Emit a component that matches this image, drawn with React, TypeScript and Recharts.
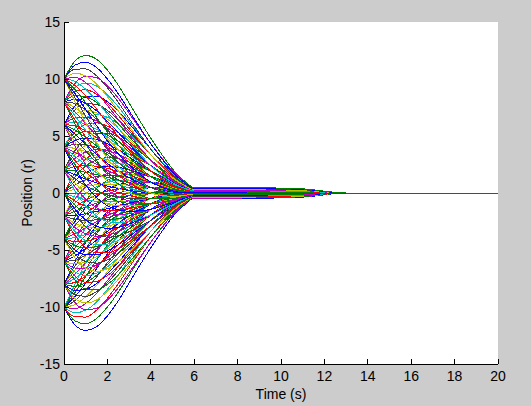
import { LineChart, Line, XAxis, YAxis, CartesianGrid } from 'recharts';

// sample times (s)
const times = [0, 0.5, 1, 1.5, 2, 2.5, 3, 3.5, 4, 4.5, 5, 5.5, 6, 8, 11, 13, 20];

// one array per starting position, each row is one initial velocity (-4 .. 4)
const startAtMinus10 = [
  [-10, -11.56, -12.06, -11.74, -10.78, -9.46, -7.9, -6.32, -4.8, -3.4, -2.1, -1.13, -0.48, -0.48, -0.36, 0, 0],
  [-10, -11.21, -11.47, -11.01, -10, -8.71, -7.22, -5.74, -4.32, -3.04, -1.86, -0.99, -0.42, -0.42, -0.32, 0, 0],
  [-10, -10.86, -10.88, -10.28, -9.23, -7.96, -6.54, -5.15, -3.84, -2.68, -1.62, -0.86, -0.37, -0.37, -0.28, 0, 0],
  [-10, -10.5, -10.28, -9.56, -8.45, -7.2, -5.86, -4.57, -3.36, -2.32, -1.38, -0.72, -0.31, -0.31, -0.23, 0, 0],
  [-10, -10.15, -9.69, -8.83, -7.68, -6.45, -5.18, -3.98, -2.88, -1.96, -1.14, -0.59, -0.26, -0.26, -0.2, 0, 0],
  [-10, -9.8, -9.1, -8.1, -6.9, -5.7, -4.5, -3.4, -2.4, -1.6, -0.9, -0.45, -0.2, -0.2, -0.15, 0, 0],
  [-10, -9.45, -8.51, -7.37, -6.12, -4.95, -3.82, -2.82, -1.92, -1.24, -0.66, -0.31, -0.14, -0.14, -0.11, 0, 0],
  [-10, -9.1, -7.92, -6.64, -5.35, -4.2, -3.14, -2.23, -1.44, -0.88, -0.42, -0.18, -0.09, -0.09, -0.07, 0, 0],
  [-10, -8.74, -7.32, -5.92, -4.57, -3.44, -2.46, -1.65, -0.96, -0.52, -0.18, -0.04, -0.03, -0.03, -0.02, 0, 0],
  [-10, -8.39, -6.73, -5.19, -3.8, -2.69, -1.78, -1.06, -0.48, -0.16, 0.06, 0.09, 0.02, 0.02, 0.02, 0, 0],
  [-10, -8.04, -6.14, -4.46, -3.02, -1.94, -1.1, -0.48, 0, 0.2, 0.3, 0.23, 0.08, 0.08, 0.06, 0, 0],
];

const startAtMinus8 = [
  [-8, -9.6, -10.24, -10.12, -9.4, -8.32, -7, -5.64, -4.32, -3.08, -1.92, -1.04, -0.44, -0.44, -0.33, 0, 0],
  [-8, -9.25, -9.65, -9.39, -8.62, -7.57, -6.32, -5.06, -3.84, -2.72, -1.68, -0.9, -0.38, -0.38, -0.29, 0, 0],
  [-8, -8.9, -9.06, -8.66, -7.85, -6.82, -5.64, -4.47, -3.36, -2.36, -1.44, -0.77, -0.33, -0.33, -0.25, 0, 0],
  [-8, -8.54, -8.46, -7.94, -7.07, -6.06, -4.96, -3.89, -2.88, -2, -1.2, -0.63, -0.27, -0.27, -0.2, 0, 0],
  [-8, -8.19, -7.87, -7.21, -6.3, -5.31, -4.28, -3.3, -2.4, -1.64, -0.96, -0.5, -0.22, -0.22, -0.16, 0, 0],
  [-8, -7.84, -7.28, -6.48, -5.52, -4.56, -3.6, -2.72, -1.92, -1.28, -0.72, -0.36, -0.16, -0.16, -0.12, 0, 0],
  [-8, -7.49, -6.69, -5.75, -4.74, -3.81, -2.92, -2.14, -1.44, -0.92, -0.48, -0.22, -0.1, -0.1, -0.08, 0, 0],
  [-8, -7.14, -6.1, -5.02, -3.97, -3.06, -2.24, -1.55, -0.96, -0.56, -0.24, -0.09, -0.05, -0.05, -0.04, 0, 0],
  [-8, -6.78, -5.5, -4.3, -3.19, -2.3, -1.56, -0.97, -0.48, -0.2, 0, 0.05, 0.01, 0.01, 0.01, 0, 0],
  [-8, -6.43, -4.91, -3.57, -2.42, -1.55, -0.88, -0.38, 0, 0.16, 0.24, 0.18, 0.06, 0.06, 0.05, 0, 0],
  [-8, -6.08, -4.32, -2.84, -1.64, -0.8, -0.2, 0.2, 0.48, 0.52, 0.48, 0.32, 0.12, 0.12, 0.09, 0, 0],
];

const startAtMinus6 = [
  [-6, -7.64, -8.42, -8.5, -8.02, -7.18, -6.1, -4.96, -3.84, -2.76, -1.74, -0.95, -0.4, -0.4, -0.3, 0, 0],
  [-6, -7.29, -7.83, -7.77, -7.24, -6.43, -5.42, -4.38, -3.36, -2.4, -1.5, -0.81, -0.34, -0.34, -0.26, 0, 0],
  [-6, -6.94, -7.24, -7.04, -6.47, -5.68, -4.74, -3.79, -2.88, -2.04, -1.26, -0.68, -0.29, -0.29, -0.22, 0, 0],
  [-6, -6.58, -6.64, -6.32, -5.69, -4.92, -4.06, -3.21, -2.4, -1.68, -1.02, -0.54, -0.23, -0.23, -0.17, 0, 0],
  [-6, -6.23, -6.05, -5.59, -4.92, -4.17, -3.38, -2.62, -1.92, -1.32, -0.78, -0.41, -0.18, -0.18, -0.14, 0, 0],
  [-6, -5.88, -5.46, -4.86, -4.14, -3.42, -2.7, -2.04, -1.44, -0.96, -0.54, -0.27, -0.12, -0.12, -0.09, 0, 0],
  [-6, -5.53, -4.87, -4.13, -3.36, -2.67, -2.02, -1.46, -0.96, -0.6, -0.3, -0.13, -0.06, -0.06, -0.05, 0, 0],
  [-6, -5.18, -4.28, -3.4, -2.59, -1.92, -1.34, -0.87, -0.48, -0.24, -0.06, 0, -0.01, -0.01, -0.01, 0, 0],
  [-6, -4.82, -3.68, -2.68, -1.81, -1.16, -0.66, -0.29, 0, 0.12, 0.18, 0.14, 0.05, 0.05, 0.04, 0, 0],
  [-6, -4.47, -3.09, -1.95, -1.04, -0.41, 0.02, 0.3, 0.48, 0.48, 0.42, 0.27, 0.1, 0.1, 0.08, 0, 0],
  [-6, -4.12, -2.5, -1.22, -0.26, 0.34, 0.7, 0.88, 0.96, 0.84, 0.66, 0.41, 0.16, 0.16, 0.12, 0, 0],
];

const startAtMinus4 = [
  [-4, -5.68, -6.6, -6.88, -6.64, -6.04, -5.2, -4.28, -3.36, -2.44, -1.56, -0.86, -0.36, -0.36, -0.27, 0, 0],
  [-4, -5.33, -6.01, -6.15, -5.86, -5.29, -4.52, -3.7, -2.88, -2.08, -1.32, -0.72, -0.3, -0.3, -0.23, 0, 0],
  [-4, -4.98, -5.42, -5.42, -5.09, -4.54, -3.84, -3.11, -2.4, -1.72, -1.08, -0.59, -0.25, -0.25, -0.19, 0, 0],
  [-4, -4.62, -4.82, -4.7, -4.31, -3.78, -3.16, -2.53, -1.92, -1.36, -0.84, -0.45, -0.19, -0.19, -0.14, 0, 0],
  [-4, -4.27, -4.23, -3.97, -3.54, -3.03, -2.48, -1.94, -1.44, -1, -0.6, -0.32, -0.14, -0.14, -0.11, 0, 0],
  [-4, -3.92, -3.64, -3.24, -2.76, -2.28, -1.8, -1.36, -0.96, -0.64, -0.36, -0.18, -0.08, -0.08, -0.06, 0, 0],
  [-4, -3.57, -3.05, -2.51, -1.98, -1.53, -1.12, -0.78, -0.48, -0.28, -0.12, -0.04, -0.02, -0.02, -0.02, 0, 0],
  [-4, -3.22, -2.46, -1.78, -1.21, -0.78, -0.44, -0.19, 0, 0.08, 0.12, 0.09, 0.03, 0.03, 0.02, 0, 0],
  [-4, -2.86, -1.86, -1.06, -0.43, -0.02, 0.24, 0.39, 0.48, 0.44, 0.36, 0.23, 0.09, 0.09, 0.07, 0, 0],
  [-4, -2.51, -1.27, -0.33, 0.34, 0.73, 0.92, 0.98, 0.96, 0.8, 0.6, 0.36, 0.14, 0.14, 0.11, 0, 0],
  [-4, -2.16, -0.68, 0.4, 1.12, 1.48, 1.6, 1.56, 1.44, 1.16, 0.84, 0.5, 0.2, 0.2, 0.15, 0, 0],
];

const startAtMinus2 = [
  [-2, -3.72, -4.78, -5.26, -5.26, -4.9, -4.3, -3.6, -2.88, -2.12, -1.38, -0.77, -0.32, -0.32, -0.24, 0, 0],
  [-2, -3.37, -4.19, -4.53, -4.48, -4.15, -3.62, -3.02, -2.4, -1.76, -1.14, -0.63, -0.26, -0.26, -0.2, 0, 0],
  [-2, -3.02, -3.6, -3.8, -3.71, -3.4, -2.94, -2.43, -1.92, -1.4, -0.9, -0.5, -0.21, -0.21, -0.16, 0, 0],
  [-2, -2.66, -3, -3.08, -2.93, -2.64, -2.26, -1.85, -1.44, -1.04, -0.66, -0.36, -0.15, -0.15, -0.11, 0, 0],
  [-2, -2.31, -2.41, -2.35, -2.16, -1.89, -1.58, -1.26, -0.96, -0.68, -0.42, -0.23, -0.1, -0.1, -0.08, 0, 0],
  [-2, -1.96, -1.82, -1.62, -1.38, -1.14, -0.9, -0.68, -0.48, -0.32, -0.18, -0.09, -0.04, -0.04, -0.03, 0, 0],
  [-2, -1.61, -1.23, -0.89, -0.6, -0.39, -0.22, -0.1, 0, 0.04, 0.06, 0.05, 0.02, 0.02, 0.02, 0, 0],
  [-2, -1.26, -0.64, -0.16, 0.17, 0.36, 0.46, 0.49, 0.48, 0.4, 0.3, 0.18, 0.07, 0.07, 0.05, 0, 0],
  [-2, -0.9, -0.04, 0.56, 0.95, 1.12, 1.14, 1.07, 0.96, 0.76, 0.54, 0.32, 0.13, 0.13, 0.1, 0, 0],
  [-2, -0.55, 0.55, 1.29, 1.72, 1.87, 1.82, 1.66, 1.44, 1.12, 0.78, 0.45, 0.18, 0.18, 0.14, 0, 0],
  [-2, -0.2, 1.14, 2.02, 2.5, 2.62, 2.5, 2.24, 1.92, 1.48, 1.02, 0.59, 0.24, 0.24, 0.18, 0, 0],
];

const startAt0 = [
  [0, -1.76, -2.96, -3.64, -3.88, -3.76, -3.4, -2.92, -2.4, -1.8, -1.2, -0.68, -0.28, -0.28, -0.21, 0, 0],
  [0, -1.41, -2.37, -2.91, -3.1, -3.01, -2.72, -2.34, -1.92, -1.44, -0.96, -0.54, -0.22, -0.22, -0.17, 0, 0],
  [0, -1.06, -1.78, -2.18, -2.33, -2.26, -2.04, -1.75, -1.44, -1.08, -0.72, -0.41, -0.17, -0.17, -0.13, 0, 0],
  [0, -0.7, -1.18, -1.46, -1.55, -1.5, -1.36, -1.17, -0.96, -0.72, -0.48, -0.27, -0.11, -0.11, -0.08, 0, 0],
  [0, -0.35, -0.59, -0.73, -0.78, -0.75, -0.68, -0.58, -0.48, -0.36, -0.24, -0.14, -0.06, -0.06, -0.04, 0, 0],
  [0, 0, 0, 0, 0, 0, 0, 0, 0, 0, 0, 0, 0, 0, 0, 0, 0],
  [0, 0.35, 0.59, 0.73, 0.78, 0.75, 0.68, 0.58, 0.48, 0.36, 0.24, 0.14, 0.06, 0.06, 0.04, 0, 0],
  [0, 0.7, 1.18, 1.46, 1.55, 1.5, 1.36, 1.17, 0.96, 0.72, 0.48, 0.27, 0.11, 0.11, 0.08, 0, 0],
  [0, 1.06, 1.78, 2.18, 2.33, 2.26, 2.04, 1.75, 1.44, 1.08, 0.72, 0.41, 0.17, 0.17, 0.13, 0, 0],
  [0, 1.41, 2.37, 2.91, 3.1, 3.01, 2.72, 2.34, 1.92, 1.44, 0.96, 0.54, 0.22, 0.22, 0.17, 0, 0],
  [0, 1.76, 2.96, 3.64, 3.88, 3.76, 3.4, 2.92, 2.4, 1.8, 1.2, 0.68, 0.28, 0.28, 0.21, 0, 0],
];

const startAt2 = [
  [2, 0.2, -1.14, -2.02, -2.5, -2.62, -2.5, -2.24, -1.92, -1.48, -1.02, -0.59, -0.24, -0.24, -0.18, 0, 0],
  [2, 0.55, -0.55, -1.29, -1.72, -1.87, -1.82, -1.66, -1.44, -1.12, -0.78, -0.45, -0.18, -0.18, -0.14, 0, 0],
  [2, 0.9, 0.04, -0.56, -0.95, -1.12, -1.14, -1.07, -0.96, -0.76, -0.54, -0.32, -0.13, -0.13, -0.1, 0, 0],
  [2, 1.26, 0.64, 0.16, -0.17, -0.36, -0.46, -0.49, -0.48, -0.4, -0.3, -0.18, -0.07, -0.07, -0.05, 0, 0],
  [2, 1.61, 1.23, 0.89, 0.6, 0.39, 0.22, 0.1, 0, -0.04, -0.06, -0.05, -0.02, -0.02, -0.02, 0, 0],
  [2, 1.96, 1.82, 1.62, 1.38, 1.14, 0.9, 0.68, 0.48, 0.32, 0.18, 0.09, 0.04, 0.04, 0.03, 0, 0],
  [2, 2.31, 2.41, 2.35, 2.16, 1.89, 1.58, 1.26, 0.96, 0.68, 0.42, 0.23, 0.1, 0.1, 0.08, 0, 0],
  [2, 2.66, 3, 3.08, 2.93, 2.64, 2.26, 1.85, 1.44, 1.04, 0.66, 0.36, 0.15, 0.15, 0.11, 0, 0],
  [2, 3.02, 3.6, 3.8, 3.71, 3.4, 2.94, 2.43, 1.92, 1.4, 0.9, 0.5, 0.21, 0.21, 0.16, 0, 0],
  [2, 3.37, 4.19, 4.53, 4.48, 4.15, 3.62, 3.02, 2.4, 1.76, 1.14, 0.63, 0.26, 0.26, 0.2, 0, 0],
  [2, 3.72, 4.78, 5.26, 5.26, 4.9, 4.3, 3.6, 2.88, 2.12, 1.38, 0.77, 0.32, 0.32, 0.24, 0, 0],
];

const startAt4 = [
  [4, 2.16, 0.68, -0.4, -1.12, -1.48, -1.6, -1.56, -1.44, -1.16, -0.84, -0.5, -0.2, -0.2, -0.15, 0, 0],
  [4, 2.51, 1.27, 0.33, -0.34, -0.73, -0.92, -0.98, -0.96, -0.8, -0.6, -0.36, -0.14, -0.14, -0.11, 0, 0],
  [4, 2.86, 1.86, 1.06, 0.43, 0.02, -0.24, -0.39, -0.48, -0.44, -0.36, -0.23, -0.09, -0.09, -0.07, 0, 0],
  [4, 3.22, 2.46, 1.78, 1.21, 0.78, 0.44, 0.19, 0, -0.08, -0.12, -0.09, -0.03, -0.03, -0.02, 0, 0],
  [4, 3.57, 3.05, 2.51, 1.98, 1.53, 1.12, 0.78, 0.48, 0.28, 0.12, 0.04, 0.02, 0.02, 0.02, 0, 0],
  [4, 3.92, 3.64, 3.24, 2.76, 2.28, 1.8, 1.36, 0.96, 0.64, 0.36, 0.18, 0.08, 0.08, 0.06, 0, 0],
  [4, 4.27, 4.23, 3.97, 3.54, 3.03, 2.48, 1.94, 1.44, 1, 0.6, 0.32, 0.14, 0.14, 0.11, 0, 0],
  [4, 4.62, 4.82, 4.7, 4.31, 3.78, 3.16, 2.53, 1.92, 1.36, 0.84, 0.45, 0.19, 0.19, 0.14, 0, 0],
  [4, 4.98, 5.42, 5.42, 5.09, 4.54, 3.84, 3.11, 2.4, 1.72, 1.08, 0.59, 0.25, 0.25, 0.19, 0, 0],
  [4, 5.33, 6.01, 6.15, 5.86, 5.29, 4.52, 3.7, 2.88, 2.08, 1.32, 0.72, 0.3, 0.3, 0.23, 0, 0],
  [4, 5.68, 6.6, 6.88, 6.64, 6.04, 5.2, 4.28, 3.36, 2.44, 1.56, 0.86, 0.36, 0.36, 0.27, 0, 0],
];

const startAt6 = [
  [6, 4.12, 2.5, 1.22, 0.26, -0.34, -0.7, -0.88, -0.96, -0.84, -0.66, -0.41, -0.16, -0.16, -0.12, 0, 0],
  [6, 4.47, 3.09, 1.95, 1.04, 0.41, -0.02, -0.3, -0.48, -0.48, -0.42, -0.27, -0.1, -0.1, -0.08, 0, 0],
  [6, 4.82, 3.68, 2.68, 1.81, 1.16, 0.66, 0.29, 0, -0.12, -0.18, -0.14, -0.05, -0.05, -0.04, 0, 0],
  [6, 5.18, 4.28, 3.4, 2.59, 1.92, 1.34, 0.87, 0.48, 0.24, 0.06, 0, 0.01, 0.01, 0.01, 0, 0],
  [6, 5.53, 4.87, 4.13, 3.36, 2.67, 2.02, 1.46, 0.96, 0.6, 0.3, 0.13, 0.06, 0.06, 0.05, 0, 0],
  [6, 5.88, 5.46, 4.86, 4.14, 3.42, 2.7, 2.04, 1.44, 0.96, 0.54, 0.27, 0.12, 0.12, 0.09, 0, 0],
  [6, 6.23, 6.05, 5.59, 4.92, 4.17, 3.38, 2.62, 1.92, 1.32, 0.78, 0.41, 0.18, 0.18, 0.14, 0, 0],
  [6, 6.58, 6.64, 6.32, 5.69, 4.92, 4.06, 3.21, 2.4, 1.68, 1.02, 0.54, 0.23, 0.23, 0.17, 0, 0],
  [6, 6.94, 7.24, 7.04, 6.47, 5.68, 4.74, 3.79, 2.88, 2.04, 1.26, 0.68, 0.29, 0.29, 0.22, 0, 0],
  [6, 7.29, 7.83, 7.77, 7.24, 6.43, 5.42, 4.38, 3.36, 2.4, 1.5, 0.81, 0.34, 0.34, 0.26, 0, 0],
  [6, 7.64, 8.42, 8.5, 8.02, 7.18, 6.1, 4.96, 3.84, 2.76, 1.74, 0.95, 0.4, 0.4, 0.3, 0, 0],
];

const startAt8 = [
  [8, 6.08, 4.32, 2.84, 1.64, 0.8, 0.2, -0.2, -0.48, -0.52, -0.48, -0.32, -0.12, -0.12, -0.09, 0, 0],
  [8, 6.43, 4.91, 3.57, 2.42, 1.55, 0.88, 0.38, 0, -0.16, -0.24, -0.18, -0.06, -0.06, -0.05, 0, 0],
  [8, 6.78, 5.5, 4.3, 3.19, 2.3, 1.56, 0.97, 0.48, 0.2, 0, -0.05, -0.01, -0.01, -0.01, 0, 0],
  [8, 7.14, 6.1, 5.02, 3.97, 3.06, 2.24, 1.55, 0.96, 0.56, 0.24, 0.09, 0.05, 0.05, 0.04, 0, 0],
  [8, 7.49, 6.69, 5.75, 4.74, 3.81, 2.92, 2.14, 1.44, 0.92, 0.48, 0.22, 0.1, 0.1, 0.08, 0, 0],
  [8, 7.84, 7.28, 6.48, 5.52, 4.56, 3.6, 2.72, 1.92, 1.28, 0.72, 0.36, 0.16, 0.16, 0.12, 0, 0],
  [8, 8.19, 7.87, 7.21, 6.3, 5.31, 4.28, 3.3, 2.4, 1.64, 0.96, 0.5, 0.22, 0.22, 0.16, 0, 0],
  [8, 8.54, 8.46, 7.94, 7.07, 6.06, 4.96, 3.89, 2.88, 2, 1.2, 0.63, 0.27, 0.27, 0.2, 0, 0],
  [8, 8.9, 9.06, 8.66, 7.85, 6.82, 5.64, 4.47, 3.36, 2.36, 1.44, 0.77, 0.33, 0.33, 0.25, 0, 0],
  [8, 9.25, 9.65, 9.39, 8.62, 7.57, 6.32, 5.06, 3.84, 2.72, 1.68, 0.9, 0.38, 0.38, 0.29, 0, 0],
  [8, 9.6, 10.24, 10.12, 9.4, 8.32, 7, 5.64, 4.32, 3.08, 1.92, 1.04, 0.44, 0.44, 0.33, 0, 0],
];

const startAt10 = [
  [10, 8.04, 6.14, 4.46, 3.02, 1.94, 1.1, 0.48, 0, -0.2, -0.3, -0.23, -0.08, -0.08, -0.06, 0, 0],
  [10, 8.39, 6.73, 5.19, 3.8, 2.69, 1.78, 1.06, 0.48, 0.16, -0.06, -0.09, -0.02, -0.02, -0.02, 0, 0],
  [10, 8.74, 7.32, 5.92, 4.57, 3.44, 2.46, 1.65, 0.96, 0.52, 0.18, 0.04, 0.03, 0.03, 0.02, 0, 0],
  [10, 9.1, 7.92, 6.64, 5.35, 4.2, 3.14, 2.23, 1.44, 0.88, 0.42, 0.18, 0.09, 0.09, 0.07, 0, 0],
  [10, 9.45, 8.51, 7.37, 6.12, 4.95, 3.82, 2.82, 1.92, 1.24, 0.66, 0.31, 0.14, 0.14, 0.11, 0, 0],
  [10, 9.8, 9.1, 8.1, 6.9, 5.7, 4.5, 3.4, 2.4, 1.6, 0.9, 0.45, 0.2, 0.2, 0.15, 0, 0],
  [10, 10.15, 9.69, 8.83, 7.68, 6.45, 5.18, 3.98, 2.88, 1.96, 1.14, 0.59, 0.26, 0.26, 0.2, 0, 0],
  [10, 10.5, 10.28, 9.56, 8.45, 7.2, 5.86, 4.57, 3.36, 2.32, 1.38, 0.72, 0.31, 0.31, 0.23, 0, 0],
  [10, 10.86, 10.88, 10.28, 9.23, 7.96, 6.54, 5.15, 3.84, 2.68, 1.62, 0.86, 0.37, 0.37, 0.28, 0, 0],
  [10, 11.21, 11.47, 11.01, 10, 8.71, 7.22, 5.74, 4.32, 3.04, 1.86, 0.99, 0.42, 0.42, 0.32, 0, 0],
  [10, 11.56, 12.06, 11.74, 10.78, 9.46, 7.9, 6.32, 4.8, 3.4, 2.1, 1.13, 0.48, 0.48, 0.36, 0, 0],
];

const xTicks = [0, 2, 4, 6, 8, 10, 12, 14, 16, 18, 20];
const yTicks = [-15, -10, -5, 0, 5, 10, 15];

// matlab default line colour order
const lineColors = ['#0000ff', '#008000', '#ff0000', '#00bfbf', '#bf00bf', '#bfbf00', '#404040'];

const allCurves = [
  ...startAtMinus10, ...startAtMinus8, ...startAtMinus6, ...startAtMinus4, ...startAtMinus2,
  ...startAt0, ...startAt2, ...startAt4, ...startAt6, ...startAt8, ...startAt10,
];

const chartData = times.map((t, i) => {
  const row: Record<string, number> = { t };
  allCurves.forEach((curve, j) => {
    row[`c${j}`] = curve[i];
  });
  return row;
});

const font = { fontFamily: 'Liberation Sans, Arial, sans-serif', fontSize: 14, fill: '#000' };

export default function App() {
  return (
    <div
      style={{
        position: 'absolute',
        left: 0,
        top: 0,
        width: 531,
        height: 406,
        background: '#cccccc',
        shapeRendering: 'crispEdges',
      }}
    >
      <LineChart width={531} height={406} data={chartData} margin={{ top: 22, right: 33, bottom: 0, left: 0 }}>
        <CartesianGrid fill="#ffffff" horizontal={false} vertical={false} />
        <XAxis
          dataKey="t"
          type="number"
          domain={[0, 20]}
          ticks={xTicks}
          height={42}
          tickSize={-5}
          tickMargin={12}
          stroke="#000"
          tick={font}
          label={{ value: 'Time (s)', position: 'insideBottom', offset: 7, style: font }}
        />
        <XAxis
          xAxisId="top"
          dataKey="t"
          type="number"
          orientation="top"
          domain={[0, 20]}
          ticks={xTicks}
          height={0}
          tickSize={-5}
          stroke="#000"
          tickFormatter={() => ''}
        />
        <YAxis
          type="number"
          domain={[-15, 15]}
          ticks={yTicks}
          width={64}
          tickSize={-5}
          tickMargin={9}
          stroke="#000"
          tick={font}
          allowDataOverflow
          label={{ value: 'Position (r)', angle: -90, position: 'center', dx: -5, style: { ...font, textAnchor: 'middle' } }}
        />
        <YAxis
          yAxisId="right"
          type="number"
          orientation="right"
          domain={[-15, 15]}
          ticks={yTicks}
          width={0}
          tickSize={-5}
          stroke="#000"
          tickFormatter={() => ''}
        />
        {allCurves.map((_, j) => (
          <Line
            key={j}
            type="monotone"
            dataKey={`c${j}`}
            stroke={lineColors[j % lineColors.length]}
            strokeWidth={1}
            dot={false}
            activeDot={false}
            isAnimationActive={false}
          />
        ))}
      </LineChart>
    </div>
  );
}
